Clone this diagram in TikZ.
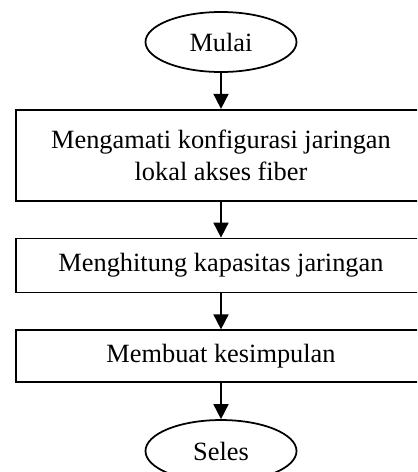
\documentclass[tikz,border=0pt]{standalone}
\usepackage{fontspec}
\setmainfont{Liberation Serif}
\usepackage{tikz}
\usetikzlibrary{arrows.meta, positioning, shapes.geometric}

\begin{document}
\begin{tikzpicture}[
    node distance=0.72cm,
    every node/.style={font=\fontsize{15}{18}\selectfont},
    terminal/.style={ellipse, draw, line width=1pt, minimum width=3.02cm, minimum height=1.2cm, inner sep=0pt},
    process/.style={rectangle, draw, line width=1pt, minimum width=8.2cm, minimum height=1.08cm, align=center, inner sep=0pt},
    arrow/.style={-{Triangle[length=3mm, width=3mm]}, line width=1pt}
]

% Frame of the picture
\useasboundingbox (0,0) rectangle (8.34,-9.44);
\clip (0,0) rectangle (8.34,-9.44);

% Main nodes
\node[terminal] (mulai) at (4.42,-0.84) {Mulai};
\node[process, minimum height=1.82cm, below=of mulai] (amati) {Mengamati konfigurasi jaringan\\lokal akses fiber};
\node[process, below=of amati] (hitung) {Menghitung kapasitas jaringan};
\node[process, minimum height=1.04cm, below=of hitung] (simpul) {Membuat kesimpulan};
\node[terminal, minimum height=1.24cm, below=of simpul] (selesai) {Seles};

% Arrows
\draw[arrow] (mulai) -- (amati);
\draw[arrow] (amati) -- (hitung);
\draw[arrow] (hitung) -- (simpul);
\draw[arrow] (simpul) -- (selesai);

\end{tikzpicture}
\end{document}
